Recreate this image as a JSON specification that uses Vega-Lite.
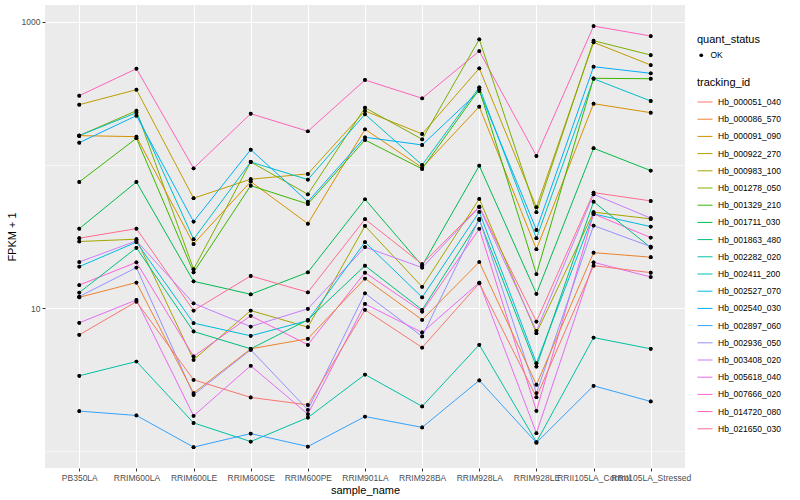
{
  "$schema": "https://vega.github.io/schema/vega-lite/v6.json",
  "width": 640,
  "height": 463,
  "autosize": {"type": "none"},
  "padding": {"left": 45, "top": 5, "right": 115, "bottom": 32},
  "background": "white",
  "config": {
    "view": {"fill": "#EBEBEB", "stroke": null},
    "font": "Liberation Sans",
    "axis": {
      "domain": false,
      "tickColor": "#333333",
      "tickSize": 3,
      "tickWidth": 1,
      "labelColor": "#4D4D4D",
      "labelFont": "Liberation Sans",
      "labelFontSize": 8.5,
      "labelPadding": 2,
      "titleFont": "Liberation Sans",
      "titleFontSize": 11,
      "titleFontWeight": "normal",
      "titleColor": "black",
      "gridColor": "white",
      "gridWidth": 1
    },
    "legend": {
      "titleFont": "Liberation Sans",
      "titleFontSize": 11,
      "titleFontWeight": "normal",
      "titleColor": "black",
      "labelFont": "Liberation Sans",
      "labelFontSize": 8.5,
      "labelColor": "black",
      "padding": 0,
      "rowPadding": 4.2,
      "titlePadding": 6,
      "labelOffset": 5
    }
  },
  "data": {
    "values": [
      {"tracking_id": "Hb_014720_080", "sample_name": "PB350LA", "fpkm": 304.5, "quant_status": "OK"},
      {"tracking_id": "Hb_014720_080", "sample_name": "RRIM600LA", "fpkm": 470, "quant_status": "OK"},
      {"tracking_id": "Hb_014720_080", "sample_name": "RRIM600LE", "fpkm": 94.8, "quant_status": "OK"},
      {"tracking_id": "Hb_014720_080", "sample_name": "RRIM600SE", "fpkm": 228, "quant_status": "OK"},
      {"tracking_id": "Hb_014720_080", "sample_name": "RRIM600PE", "fpkm": 171.9, "quant_status": "OK"},
      {"tracking_id": "Hb_014720_080", "sample_name": "RRIM901LA", "fpkm": 392, "quant_status": "OK"},
      {"tracking_id": "Hb_014720_080", "sample_name": "RRIM928BA", "fpkm": 292, "quant_status": "OK"},
      {"tracking_id": "Hb_014720_080", "sample_name": "RRIM928LA", "fpkm": 624, "quant_status": "OK"},
      {"tracking_id": "Hb_014720_080", "sample_name": "RRIM928LE", "fpkm": 115.6, "quant_status": "OK"},
      {"tracking_id": "Hb_014720_080", "sample_name": "RRII105LA_Control", "fpkm": 933, "quant_status": "OK"},
      {"tracking_id": "Hb_014720_080", "sample_name": "RRII105LA_Stressed", "fpkm": 795, "quant_status": "OK"},

      {"tracking_id": "Hb_000922_270", "sample_name": "PB350LA", "fpkm": 263.5, "quant_status": "OK"},
      {"tracking_id": "Hb_000922_270", "sample_name": "RRIM600LA", "fpkm": 335.4, "quant_status": "OK"},
      {"tracking_id": "Hb_000922_270", "sample_name": "RRIM600LE", "fpkm": 58.6, "quant_status": "OK"},
      {"tracking_id": "Hb_000922_270", "sample_name": "RRIM600SE", "fpkm": 79.5, "quant_status": "OK"},
      {"tracking_id": "Hb_000922_270", "sample_name": "RRIM600PE", "fpkm": 86.6, "quant_status": "OK"},
      {"tracking_id": "Hb_000922_270", "sample_name": "RRIM901LA", "fpkm": 238.2, "quant_status": "OK"},
      {"tracking_id": "Hb_000922_270", "sample_name": "RRIM928BA", "fpkm": 164.6, "quant_status": "OK"},
      {"tracking_id": "Hb_000922_270", "sample_name": "RRIM928LA", "fpkm": 473, "quant_status": "OK"},
      {"tracking_id": "Hb_000922_270", "sample_name": "RRIM928LE", "fpkm": 50.7, "quant_status": "OK"},
      {"tracking_id": "Hb_000922_270", "sample_name": "RRII105LA_Control", "fpkm": 718, "quant_status": "OK"},
      {"tracking_id": "Hb_000922_270", "sample_name": "RRII105LA_Stressed", "fpkm": 498.7, "quant_status": "OK"},

      {"tracking_id": "Hb_001278_050", "sample_name": "PB350LA", "fpkm": 160.2, "quant_status": "OK"},
      {"tracking_id": "Hb_001278_050", "sample_name": "RRIM600LA", "fpkm": 239.3, "quant_status": "OK"},
      {"tracking_id": "Hb_001278_050", "sample_name": "RRIM600LE", "fpkm": 18.7, "quant_status": "OK"},
      {"tracking_id": "Hb_001278_050", "sample_name": "RRIM600SE", "fpkm": 104.9, "quant_status": "OK"},
      {"tracking_id": "Hb_001278_050", "sample_name": "RRIM600PE", "fpkm": 62.4, "quant_status": "OK"},
      {"tracking_id": "Hb_001278_050", "sample_name": "RRIM901LA", "fpkm": 251, "quant_status": "OK"},
      {"tracking_id": "Hb_001278_050", "sample_name": "RRIM928BA", "fpkm": 151.1, "quant_status": "OK"},
      {"tracking_id": "Hb_001278_050", "sample_name": "RRIM928LA", "fpkm": 754, "quant_status": "OK"},
      {"tracking_id": "Hb_001278_050", "sample_name": "RRIM928LE", "fpkm": 46.8, "quant_status": "OK"},
      {"tracking_id": "Hb_001278_050", "sample_name": "RRII105LA_Control", "fpkm": 737, "quant_status": "OK"},
      {"tracking_id": "Hb_001278_050", "sample_name": "RRII105LA_Stressed", "fpkm": 585.6, "quant_status": "OK"},

      {"tracking_id": "Hb_002411_200", "sample_name": "PB350LA", "fpkm": 160.2, "quant_status": "OK"},
      {"tracking_id": "Hb_002411_200", "sample_name": "RRIM600LA", "fpkm": 231.7, "quant_status": "OK"},
      {"tracking_id": "Hb_002411_200", "sample_name": "RRIM600LE", "fpkm": 30.3, "quant_status": "OK"},
      {"tracking_id": "Hb_002411_200", "sample_name": "RRIM600SE", "fpkm": 104.9, "quant_status": "OK"},
      {"tracking_id": "Hb_002411_200", "sample_name": "RRIM600PE", "fpkm": 79.0, "quant_status": "OK"},
      {"tracking_id": "Hb_002411_200", "sample_name": "RRIM901LA", "fpkm": 225.9, "quant_status": "OK"},
      {"tracking_id": "Hb_002411_200", "sample_name": "RRIM928BA", "fpkm": 100, "quant_status": "OK"},
      {"tracking_id": "Hb_002411_200", "sample_name": "RRIM928LA", "fpkm": 348.5, "quant_status": "OK"},
      {"tracking_id": "Hb_002411_200", "sample_name": "RRIM928LE", "fpkm": 30.8, "quant_status": "OK"},
      {"tracking_id": "Hb_002411_200", "sample_name": "RRII105LA_Control", "fpkm": 399.5, "quant_status": "OK"},
      {"tracking_id": "Hb_002411_200", "sample_name": "RRII105LA_Stressed", "fpkm": 279.7, "quant_status": "OK"},

      {"tracking_id": "Hb_000091_090", "sample_name": "PB350LA", "fpkm": 160.2, "quant_status": "OK"},
      {"tracking_id": "Hb_000091_090", "sample_name": "RRIM600LA", "fpkm": 157.6, "quant_status": "OK"},
      {"tracking_id": "Hb_000091_090", "sample_name": "RRIM600LE", "fpkm": 28.1, "quant_status": "OK"},
      {"tracking_id": "Hb_000091_090", "sample_name": "RRIM600SE", "fpkm": 76.5, "quant_status": "OK"},
      {"tracking_id": "Hb_000091_090", "sample_name": "RRIM600PE", "fpkm": 38.9, "quant_status": "OK"},
      {"tracking_id": "Hb_000091_090", "sample_name": "RRIM901LA", "fpkm": 177.5, "quant_status": "OK"},
      {"tracking_id": "Hb_000091_090", "sample_name": "RRIM928BA", "fpkm": 95.8, "quant_status": "OK"},
      {"tracking_id": "Hb_000091_090", "sample_name": "RRIM928LA", "fpkm": 255.2, "quant_status": "OK"},
      {"tracking_id": "Hb_000091_090", "sample_name": "RRIM928LE", "fpkm": 25.8, "quant_status": "OK"},
      {"tracking_id": "Hb_000091_090", "sample_name": "RRII105LA_Control", "fpkm": 267.8, "quant_status": "OK"},
      {"tracking_id": "Hb_000091_090", "sample_name": "RRII105LA_Stressed", "fpkm": 231.7, "quant_status": "OK"},

      {"tracking_id": "Hb_002540_030", "sample_name": "PB350LA", "fpkm": 143.1, "quant_status": "OK"},
      {"tracking_id": "Hb_002540_030", "sample_name": "RRIM600LA", "fpkm": 220.8, "quant_status": "OK"},
      {"tracking_id": "Hb_002540_030", "sample_name": "RRIM600LE", "fpkm": 40.2, "quant_status": "OK"},
      {"tracking_id": "Hb_002540_030", "sample_name": "RRIM600SE", "fpkm": 127.9, "quant_status": "OK"},
      {"tracking_id": "Hb_002540_030", "sample_name": "RRIM600PE", "fpkm": 55.4, "quant_status": "OK"},
      {"tracking_id": "Hb_002540_030", "sample_name": "RRIM901LA", "fpkm": 156.1, "quant_status": "OK"},
      {"tracking_id": "Hb_002540_030", "sample_name": "RRIM928BA", "fpkm": 137.9, "quant_status": "OK"},
      {"tracking_id": "Hb_002540_030", "sample_name": "RRIM928LA", "fpkm": 328.4, "quant_status": "OK"},
      {"tracking_id": "Hb_002540_030", "sample_name": "RRIM928LE", "fpkm": 35.2, "quant_status": "OK"},
      {"tracking_id": "Hb_002540_030", "sample_name": "RRII105LA_Control", "fpkm": 485.3, "quant_status": "OK"},
      {"tracking_id": "Hb_002540_030", "sample_name": "RRII105LA_Stressed", "fpkm": 436.5, "quant_status": "OK"},

      {"tracking_id": "Hb_001329_210", "sample_name": "PB350LA", "fpkm": 76.1, "quant_status": "OK"},
      {"tracking_id": "Hb_001329_210", "sample_name": "RRIM600LA", "fpkm": 153.6, "quant_status": "OK"},
      {"tracking_id": "Hb_001329_210", "sample_name": "RRIM600LE", "fpkm": 17.8, "quant_status": "OK"},
      {"tracking_id": "Hb_001329_210", "sample_name": "RRIM600SE", "fpkm": 71.7, "quant_status": "OK"},
      {"tracking_id": "Hb_001329_210", "sample_name": "RRIM600PE", "fpkm": 53.4, "quant_status": "OK"},
      {"tracking_id": "Hb_001329_210", "sample_name": "RRIM901LA", "fpkm": 149.4, "quant_status": "OK"},
      {"tracking_id": "Hb_001329_210", "sample_name": "RRIM928BA", "fpkm": 93.8, "quant_status": "OK"},
      {"tracking_id": "Hb_001329_210", "sample_name": "RRIM928LA", "fpkm": 337.5, "quant_status": "OK"},
      {"tracking_id": "Hb_001329_210", "sample_name": "RRIM928LE", "fpkm": 17.3, "quant_status": "OK"},
      {"tracking_id": "Hb_001329_210", "sample_name": "RRII105LA_Control", "fpkm": 402.7, "quant_status": "OK"},
      {"tracking_id": "Hb_001329_210", "sample_name": "RRII105LA_Stressed", "fpkm": 400, "quant_status": "OK"},

      {"tracking_id": "Hb_001711_030", "sample_name": "PB350LA", "fpkm": 35.9, "quant_status": "OK"},
      {"tracking_id": "Hb_001711_030", "sample_name": "RRIM600LA", "fpkm": 76.1, "quant_status": "OK"},
      {"tracking_id": "Hb_001711_030", "sample_name": "RRIM600LE", "fpkm": 15.4, "quant_status": "OK"},
      {"tracking_id": "Hb_001711_030", "sample_name": "RRIM600SE", "fpkm": 12.5, "quant_status": "OK"},
      {"tracking_id": "Hb_001711_030", "sample_name": "RRIM600PE", "fpkm": 17.8, "quant_status": "OK"},
      {"tracking_id": "Hb_001711_030", "sample_name": "RRIM901LA", "fpkm": 57.6, "quant_status": "OK"},
      {"tracking_id": "Hb_001711_030", "sample_name": "RRIM928BA", "fpkm": 19.8, "quant_status": "OK"},
      {"tracking_id": "Hb_001711_030", "sample_name": "RRIM928LA", "fpkm": 98.9, "quant_status": "OK"},
      {"tracking_id": "Hb_001711_030", "sample_name": "RRIM928LE", "fpkm": 12.6, "quant_status": "OK"},
      {"tracking_id": "Hb_001711_030", "sample_name": "RRII105LA_Control", "fpkm": 130.8, "quant_status": "OK"},
      {"tracking_id": "Hb_001711_030", "sample_name": "RRII105LA_Stressed", "fpkm": 91.3, "quant_status": "OK"},

      {"tracking_id": "Hb_021650_030", "sample_name": "PB350LA", "fpkm": 30.8, "quant_status": "OK"},
      {"tracking_id": "Hb_021650_030", "sample_name": "RRIM600LA", "fpkm": 35.9, "quant_status": "OK"},
      {"tracking_id": "Hb_021650_030", "sample_name": "RRIM600LE", "fpkm": 9.62, "quant_status": "OK"},
      {"tracking_id": "Hb_021650_030", "sample_name": "RRIM600SE", "fpkm": 16.8, "quant_status": "OK"},
      {"tracking_id": "Hb_021650_030", "sample_name": "RRIM600PE", "fpkm": 12.9, "quant_status": "OK"},
      {"tracking_id": "Hb_021650_030", "sample_name": "RRIM901LA", "fpkm": 41.8, "quant_status": "OK"},
      {"tracking_id": "Hb_021650_030", "sample_name": "RRIM928BA", "fpkm": 20.3, "quant_status": "OK"},
      {"tracking_id": "Hb_021650_030", "sample_name": "RRIM928LA", "fpkm": 51.2, "quant_status": "OK"},
      {"tracking_id": "Hb_021650_030", "sample_name": "RRIM928LE", "fpkm": 8.06, "quant_status": "OK"},
      {"tracking_id": "Hb_021650_030", "sample_name": "RRII105LA_Control", "fpkm": 64.1, "quant_status": "OK"},
      {"tracking_id": "Hb_021650_030", "sample_name": "RRII105LA_Stressed", "fpkm": 56.1, "quant_status": "OK"},

      {"tracking_id": "Hb_000983_100", "sample_name": "PB350LA", "fpkm": 29.2, "quant_status": "OK"},
      {"tracking_id": "Hb_000983_100", "sample_name": "RRIM600LA", "fpkm": 30.3, "quant_status": "OK"},
      {"tracking_id": "Hb_000983_100", "sample_name": "RRIM600LE", "fpkm": 4.36, "quant_status": "OK"},
      {"tracking_id": "Hb_000983_100", "sample_name": "RRIM600SE", "fpkm": 9.62, "quant_status": "OK"},
      {"tracking_id": "Hb_000983_100", "sample_name": "RRIM600PE", "fpkm": 7.37, "quant_status": "OK"},
      {"tracking_id": "Hb_000983_100", "sample_name": "RRIM901LA", "fpkm": 37.5, "quant_status": "OK"},
      {"tracking_id": "Hb_000983_100", "sample_name": "RRIM928BA", "fpkm": 14.1, "quant_status": "OK"},
      {"tracking_id": "Hb_000983_100", "sample_name": "RRIM928LA", "fpkm": 57.9, "quant_status": "OK"},
      {"tracking_id": "Hb_000983_100", "sample_name": "RRIM928LE", "fpkm": 6.69, "quant_status": "OK"},
      {"tracking_id": "Hb_000983_100", "sample_name": "RRII105LA_Control", "fpkm": 46.8, "quant_status": "OK"},
      {"tracking_id": "Hb_000983_100", "sample_name": "RRII105LA_Stressed", "fpkm": 42.0, "quant_status": "OK"},

      {"tracking_id": "Hb_003408_020", "sample_name": "PB350LA", "fpkm": 21.0, "quant_status": "OK"},
      {"tracking_id": "Hb_003408_020", "sample_name": "RRIM600LA", "fpkm": 29.5, "quant_status": "OK"},
      {"tracking_id": "Hb_003408_020", "sample_name": "RRIM600LE", "fpkm": 10.8, "quant_status": "OK"},
      {"tracking_id": "Hb_003408_020", "sample_name": "RRIM600SE", "fpkm": 7.44, "quant_status": "OK"},
      {"tracking_id": "Hb_003408_020", "sample_name": "RRIM600PE", "fpkm": 9.89, "quant_status": "OK"},
      {"tracking_id": "Hb_003408_020", "sample_name": "RRIM901LA", "fpkm": 26.7, "quant_status": "OK"},
      {"tracking_id": "Hb_003408_020", "sample_name": "RRIM928BA", "fpkm": 19.2, "quant_status": "OK"},
      {"tracking_id": "Hb_003408_020", "sample_name": "RRIM928LA", "fpkm": 50.7, "quant_status": "OK"},
      {"tracking_id": "Hb_003408_020", "sample_name": "RRIM928LE", "fpkm": 6.94, "quant_status": "OK"},
      {"tracking_id": "Hb_003408_020", "sample_name": "RRII105LA_Control", "fpkm": 62.4, "quant_status": "OK"},
      {"tracking_id": "Hb_003408_020", "sample_name": "RRII105LA_Stressed", "fpkm": 42.5, "quant_status": "OK"},

      {"tracking_id": "Hb_002527_070", "sample_name": "PB350LA", "fpkm": 19.5, "quant_status": "OK"},
      {"tracking_id": "Hb_002527_070", "sample_name": "RRIM600LA", "fpkm": 28.9, "quant_status": "OK"},
      {"tracking_id": "Hb_002527_070", "sample_name": "RRIM600LE", "fpkm": 7.86, "quant_status": "OK"},
      {"tracking_id": "Hb_002527_070", "sample_name": "RRIM600SE", "fpkm": 6.41, "quant_status": "OK"},
      {"tracking_id": "Hb_002527_070", "sample_name": "RRIM600PE", "fpkm": 8.19, "quant_status": "OK"},
      {"tracking_id": "Hb_002527_070", "sample_name": "RRIM901LA", "fpkm": 28.9, "quant_status": "OK"},
      {"tracking_id": "Hb_002527_070", "sample_name": "RRIM928BA", "fpkm": 11.9, "quant_status": "OK"},
      {"tracking_id": "Hb_002527_070", "sample_name": "RRIM928LA", "fpkm": 47.0, "quant_status": "OK"},
      {"tracking_id": "Hb_002527_070", "sample_name": "RRIM928LE", "fpkm": 4.13, "quant_status": "OK"},
      {"tracking_id": "Hb_002527_070", "sample_name": "RRII105LA_Control", "fpkm": 45.5, "quant_status": "OK"},
      {"tracking_id": "Hb_002527_070", "sample_name": "RRII105LA_Stressed", "fpkm": 37.1, "quant_status": "OK"},

      {"tracking_id": "Hb_007666_020", "sample_name": "PB350LA", "fpkm": 14.5, "quant_status": "OK"},
      {"tracking_id": "Hb_007666_020", "sample_name": "RRIM600LA", "fpkm": 20.9, "quant_status": "OK"},
      {"tracking_id": "Hb_007666_020", "sample_name": "RRIM600LE", "fpkm": 4.6, "quant_status": "OK"},
      {"tracking_id": "Hb_007666_020", "sample_name": "RRIM600SE", "fpkm": 8.84, "quant_status": "OK"},
      {"tracking_id": "Hb_007666_020", "sample_name": "RRIM600PE", "fpkm": 5.55, "quant_status": "OK"},
      {"tracking_id": "Hb_007666_020", "sample_name": "RRIM901LA", "fpkm": 17.7, "quant_status": "OK"},
      {"tracking_id": "Hb_007666_020", "sample_name": "RRIM928BA", "fpkm": 9.47, "quant_status": "OK"},
      {"tracking_id": "Hb_007666_020", "sample_name": "RRIM928LA", "fpkm": 35.8, "quant_status": "OK"},
      {"tracking_id": "Hb_007666_020", "sample_name": "RRIM928LE", "fpkm": 1.92, "quant_status": "OK"},
      {"tracking_id": "Hb_007666_020", "sample_name": "RRII105LA_Control", "fpkm": 45.5, "quant_status": "OK"},
      {"tracking_id": "Hb_007666_020", "sample_name": "RRII105LA_Stressed", "fpkm": 31.1, "quant_status": "OK"},

      {"tracking_id": "Hb_001863_480", "sample_name": "PB350LA", "fpkm": 12.85, "quant_status": "OK"},
      {"tracking_id": "Hb_001863_480", "sample_name": "RRIM600LA", "fpkm": 26.4, "quant_status": "OK"},
      {"tracking_id": "Hb_001863_480", "sample_name": "RRIM600LE", "fpkm": 6.87, "quant_status": "OK"},
      {"tracking_id": "Hb_001863_480", "sample_name": "RRIM600SE", "fpkm": 5.2, "quant_status": "OK"},
      {"tracking_id": "Hb_001863_480", "sample_name": "RRIM600PE", "fpkm": 8.29, "quant_status": "OK"},
      {"tracking_id": "Hb_001863_480", "sample_name": "RRIM901LA", "fpkm": 19.8, "quant_status": "OK"},
      {"tracking_id": "Hb_001863_480", "sample_name": "RRIM928BA", "fpkm": 9.73, "quant_status": "OK"},
      {"tracking_id": "Hb_001863_480", "sample_name": "RRIM928LA", "fpkm": 41.3, "quant_status": "OK"},
      {"tracking_id": "Hb_001863_480", "sample_name": "RRIM928LE", "fpkm": 3.91, "quant_status": "OK"},
      {"tracking_id": "Hb_001863_480", "sample_name": "RRII105LA_Control", "fpkm": 55.4, "quant_status": "OK"},
      {"tracking_id": "Hb_001863_480", "sample_name": "RRII105LA_Stressed", "fpkm": 26.5, "quant_status": "OK"},

      {"tracking_id": "Hb_002936_050", "sample_name": "PB350LA", "fpkm": 12.05, "quant_status": "OK"},
      {"tracking_id": "Hb_002936_050", "sample_name": "RRIM600LA", "fpkm": 19.2, "quant_status": "OK"},
      {"tracking_id": "Hb_002936_050", "sample_name": "RRIM600LE", "fpkm": 2.48, "quant_status": "OK"},
      {"tracking_id": "Hb_002936_050", "sample_name": "RRIM600SE", "fpkm": 5.12, "quant_status": "OK"},
      {"tracking_id": "Hb_002936_050", "sample_name": "RRIM600PE", "fpkm": 1.95, "quant_status": "OK"},
      {"tracking_id": "Hb_002936_050", "sample_name": "RRIM901LA", "fpkm": 12.7, "quant_status": "OK"},
      {"tracking_id": "Hb_002936_050", "sample_name": "RRIM928BA", "fpkm": 6.34, "quant_status": "OK"},
      {"tracking_id": "Hb_002936_050", "sample_name": "RRIM928LA", "fpkm": 42.0, "quant_status": "OK"},
      {"tracking_id": "Hb_002936_050", "sample_name": "RRIM928LE", "fpkm": 2.55, "quant_status": "OK"},
      {"tracking_id": "Hb_002936_050", "sample_name": "RRII105LA_Control", "fpkm": 37.7, "quant_status": "OK"},
      {"tracking_id": "Hb_002936_050", "sample_name": "RRII105LA_Stressed", "fpkm": 26.9, "quant_status": "OK"},

      {"tracking_id": "Hb_000086_570", "sample_name": "PB350LA", "fpkm": 11.9, "quant_status": "OK"},
      {"tracking_id": "Hb_000086_570", "sample_name": "RRIM600LA", "fpkm": 15.1, "quant_status": "OK"},
      {"tracking_id": "Hb_000086_570", "sample_name": "RRIM600LE", "fpkm": 2.55, "quant_status": "OK"},
      {"tracking_id": "Hb_000086_570", "sample_name": "RRIM600SE", "fpkm": 5.2, "quant_status": "OK"},
      {"tracking_id": "Hb_000086_570", "sample_name": "RRIM600PE", "fpkm": 6.11, "quant_status": "OK"},
      {"tracking_id": "Hb_000086_570", "sample_name": "RRIM901LA", "fpkm": 16.1, "quant_status": "OK"},
      {"tracking_id": "Hb_000086_570", "sample_name": "RRIM928BA", "fpkm": 8.29, "quant_status": "OK"},
      {"tracking_id": "Hb_000086_570", "sample_name": "RRIM928LA", "fpkm": 21.0, "quant_status": "OK"},
      {"tracking_id": "Hb_000086_570", "sample_name": "RRIM928LE", "fpkm": 2.92, "quant_status": "OK"},
      {"tracking_id": "Hb_000086_570", "sample_name": "RRII105LA_Control", "fpkm": 24.4, "quant_status": "OK"},
      {"tracking_id": "Hb_000086_570", "sample_name": "RRII105LA_Stressed", "fpkm": 22.7, "quant_status": "OK"},

      {"tracking_id": "Hb_005618_040", "sample_name": "PB350LA", "fpkm": 7.9, "quant_status": "OK"},
      {"tracking_id": "Hb_005618_040", "sample_name": "RRIM600LA", "fpkm": 11.4, "quant_status": "OK"},
      {"tracking_id": "Hb_005618_040", "sample_name": "RRIM600LE", "fpkm": 1.77, "quant_status": "OK"},
      {"tracking_id": "Hb_005618_040", "sample_name": "RRIM600SE", "fpkm": 3.96, "quant_status": "OK"},
      {"tracking_id": "Hb_005618_040", "sample_name": "RRIM600PE", "fpkm": 1.82, "quant_status": "OK"},
      {"tracking_id": "Hb_005618_040", "sample_name": "RRIM901LA", "fpkm": 10.7, "quant_status": "OK"},
      {"tracking_id": "Hb_005618_040", "sample_name": "RRIM928BA", "fpkm": 6.76, "quant_status": "OK"},
      {"tracking_id": "Hb_005618_040", "sample_name": "RRIM928LA", "fpkm": 15.1, "quant_status": "OK"},
      {"tracking_id": "Hb_005618_040", "sample_name": "RRIM928LE", "fpkm": 1.34, "quant_status": "OK"},
      {"tracking_id": "Hb_005618_040", "sample_name": "RRII105LA_Control", "fpkm": 20.9, "quant_status": "OK"},
      {"tracking_id": "Hb_005618_040", "sample_name": "RRII105LA_Stressed", "fpkm": 16.5, "quant_status": "OK"},

      {"tracking_id": "Hb_000051_040", "sample_name": "PB350LA", "fpkm": 6.51, "quant_status": "OK"},
      {"tracking_id": "Hb_000051_040", "sample_name": "RRIM600LA", "fpkm": 11.1, "quant_status": "OK"},
      {"tracking_id": "Hb_000051_040", "sample_name": "RRIM600LE", "fpkm": 3.16, "quant_status": "OK"},
      {"tracking_id": "Hb_000051_040", "sample_name": "RRIM600SE", "fpkm": 2.38, "quant_status": "OK"},
      {"tracking_id": "Hb_000051_040", "sample_name": "RRIM600PE", "fpkm": 2.11, "quant_status": "OK"},
      {"tracking_id": "Hb_000051_040", "sample_name": "RRIM901LA", "fpkm": 9.73, "quant_status": "OK"},
      {"tracking_id": "Hb_000051_040", "sample_name": "RRIM928BA", "fpkm": 5.31, "quant_status": "OK"},
      {"tracking_id": "Hb_000051_040", "sample_name": "RRIM928LA", "fpkm": 14.9, "quant_status": "OK"},
      {"tracking_id": "Hb_000051_040", "sample_name": "RRIM928LE", "fpkm": 2.39, "quant_status": "OK"},
      {"tracking_id": "Hb_000051_040", "sample_name": "RRII105LA_Control", "fpkm": 19.8, "quant_status": "OK"},
      {"tracking_id": "Hb_000051_040", "sample_name": "RRII105LA_Stressed", "fpkm": 17.7, "quant_status": "OK"},

      {"tracking_id": "Hb_002282_020", "sample_name": "PB350LA", "fpkm": 3.37, "quant_status": "OK"},
      {"tracking_id": "Hb_002282_020", "sample_name": "RRIM600LA", "fpkm": 4.24, "quant_status": "OK"},
      {"tracking_id": "Hb_002282_020", "sample_name": "RRIM600LE", "fpkm": 1.58, "quant_status": "OK"},
      {"tracking_id": "Hb_002282_020", "sample_name": "RRIM600SE", "fpkm": 1.17, "quant_status": "OK"},
      {"tracking_id": "Hb_002282_020", "sample_name": "RRIM600PE", "fpkm": 1.72, "quant_status": "OK"},
      {"tracking_id": "Hb_002282_020", "sample_name": "RRIM901LA", "fpkm": 3.44, "quant_status": "OK"},
      {"tracking_id": "Hb_002282_020", "sample_name": "RRIM928BA", "fpkm": 2.06, "quant_status": "OK"},
      {"tracking_id": "Hb_002282_020", "sample_name": "RRIM928LA", "fpkm": 5.55, "quant_status": "OK"},
      {"tracking_id": "Hb_002282_020", "sample_name": "RRIM928LE", "fpkm": 1.16, "quant_status": "OK"},
      {"tracking_id": "Hb_002282_020", "sample_name": "RRII105LA_Control", "fpkm": 6.23, "quant_status": "OK"},
      {"tracking_id": "Hb_002282_020", "sample_name": "RRII105LA_Stressed", "fpkm": 5.2, "quant_status": "OK"},

      {"tracking_id": "Hb_002897_060", "sample_name": "PB350LA", "fpkm": 1.91, "quant_status": "OK"},
      {"tracking_id": "Hb_002897_060", "sample_name": "RRIM600LA", "fpkm": 1.78, "quant_status": "OK"},
      {"tracking_id": "Hb_002897_060", "sample_name": "RRIM600LE", "fpkm": 1.07, "quant_status": "OK"},
      {"tracking_id": "Hb_002897_060", "sample_name": "RRIM600SE", "fpkm": 1.33, "quant_status": "OK"},
      {"tracking_id": "Hb_002897_060", "sample_name": "RRIM600PE", "fpkm": 1.08, "quant_status": "OK"},
      {"tracking_id": "Hb_002897_060", "sample_name": "RRIM901LA", "fpkm": 1.75, "quant_status": "OK"},
      {"tracking_id": "Hb_002897_060", "sample_name": "RRIM928BA", "fpkm": 1.47, "quant_status": "OK"},
      {"tracking_id": "Hb_002897_060", "sample_name": "RRIM928LA", "fpkm": 3.13, "quant_status": "OK"},
      {"tracking_id": "Hb_002897_060", "sample_name": "RRIM928LE", "fpkm": 1.15, "quant_status": "OK"},
      {"tracking_id": "Hb_002897_060", "sample_name": "RRII105LA_Control", "fpkm": 2.87, "quant_status": "OK"},
      {"tracking_id": "Hb_002897_060", "sample_name": "RRII105LA_Stressed", "fpkm": 2.23, "quant_status": "OK"}
    ]
  },
  "encoding": {
    "x": {
      "field": "sample_name",
      "type": "nominal",
      "sort": ["PB350LA", "RRIM600LA", "RRIM600LE", "RRIM600SE", "RRIM600PE", "RRIM901LA", "RRIM928BA", "RRIM928LA", "RRIM928LE", "RRII105LA_Control", "RRII105LA_Stressed"],
      "scale": {"type": "point", "padding": 0.6},
      "axis": {"title": "sample_name", "labelAngle": 0, "labelOverlap": false, "labelLimit": 0, "grid": true, "titlePadding": 3}
    },
    "y": {
      "field": "fpkm",
      "type": "quantitative",
      "scale": {"type": "log", "domain": [0.765, 1309], "nice": false, "zero": false},
      "axis": {
        "title": "FPKM + 1",
        "values": [1, 10, 100, 1000],
        "labelExpr": "datum.value == 10 || datum.value == 1000 ? datum.label : ''",
        "format": "d",
        "tickColor": {"condition": {"test": "datum.value == 10 || datum.value == 1000", "value": "#333333"}, "value": "transparent"},
        "gridWidth": {"condition": {"test": "datum.value == 10 || datum.value == 1000", "value": 1.1}, "value": 0.6},
        "titlePadding": 4
      }
    }
  },
  "layer": [
    {
      "mark": {"type": "point", "filled": true, "size": 14, "opacity": 1},
      "encoding": {
        "shape": {
          "field": "quant_status",
          "type": "nominal",
          "scale": {"range": ["circle"]},
          "legend": {"title": "quant_status", "orient": "none", "legendX": 652, "legendY": 29, "symbolFillColor": "black", "symbolStrokeColor": "black", "symbolSize": 14, "symbolOpacity": 1}
        },
        "color": {"value": "black"}
      }
    },
    {
      "mark": {"type": "line", "strokeWidth": 1},
      "encoding": {
        "color": {
          "field": "tracking_id",
          "type": "nominal",
          "scale": {
            "domain": ["Hb_000051_040", "Hb_000086_570", "Hb_000091_090", "Hb_000922_270", "Hb_000983_100", "Hb_001278_050", "Hb_001329_210", "Hb_001711_030", "Hb_001863_480", "Hb_002282_020", "Hb_002411_200", "Hb_002527_070", "Hb_002540_030", "Hb_002897_060", "Hb_002936_050", "Hb_003408_020", "Hb_005618_040", "Hb_007666_020", "Hb_014720_080", "Hb_021650_030"],
            "range": ["#F8766D", "#EA8331", "#D89000", "#C09B00", "#A3A500", "#7CAE00", "#39B600", "#00BB4E", "#00BF7D", "#00C1A3", "#00BFC4", "#00BAE0", "#00B0F6", "#35A2FF", "#9590FF", "#C77CFF", "#E76BF3", "#FA62DB", "#FF62BC", "#FF6C91"]
          },
          "legend": {"title": "tracking_id", "orient": "none", "legendX": 652, "legendY": 72, "symbolType": "stroke", "symbolSize": 225, "symbolStrokeWidth": 1}
        },
        "detail": {"field": "tracking_id"}
      }
    },
    {
      "mark": {"type": "point", "filled": true, "size": 14, "opacity": 1, "color": "black", "shape": "circle"},
      "encoding": {}
    }
  ]
}
